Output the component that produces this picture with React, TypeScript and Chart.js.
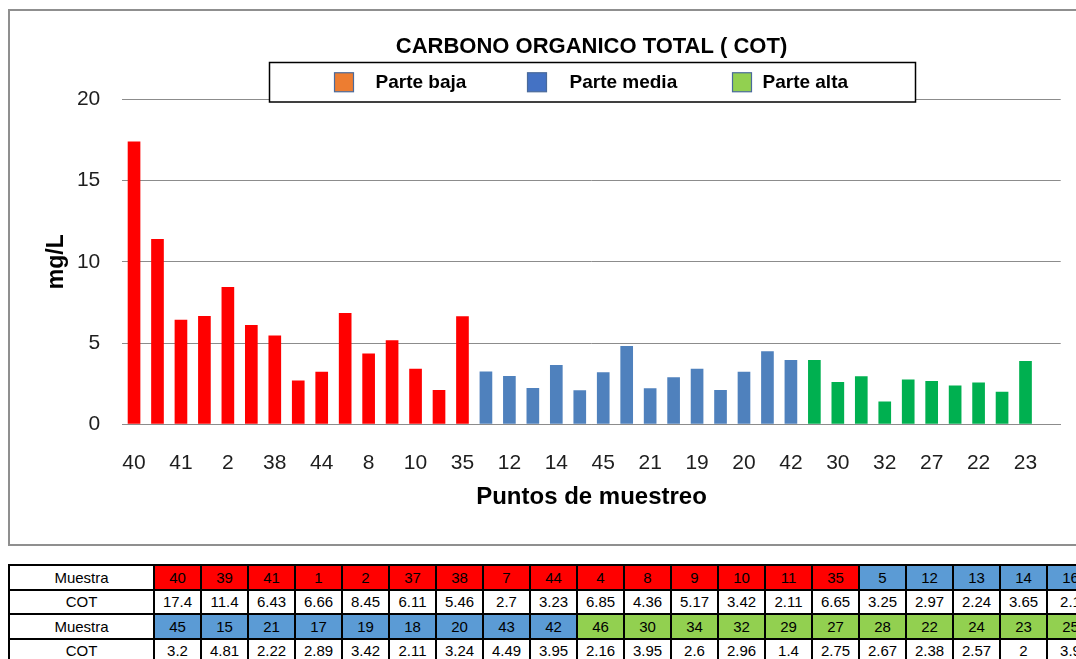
import React, { useEffect, useRef } from 'react';
import { Chart, registerables } from 'chart.js';

Chart.register(...registerables);

// ---- Data ----
const titleText = 'CARBONO ORGANICO TOTAL ( COT)';
const yTitle = 'mg/L';
const xTitle = 'Puntos de muestreo';
const seriesNames = ['Parte baja', 'Parte media', 'Parte alta'];

const bajaLabels = ['40', '39', '41', '1', '2', '37', '38', '7', '44', '4', '8', '9', '10', '11', '35'];
const bajaValues = [17.4, 11.4, 6.43, 6.66, 8.45, 6.11, 5.46, 2.7, 3.23, 6.85, 4.36, 5.17, 3.42, 2.11, 6.65];

const mediaLabels = ['5', '12', '13', '14', '16', '45', '15', '21', '17', '19', '18', '20', '43', '42'];
const mediaValues = [3.25, 2.97, 2.24, 3.65, 2.1, 3.2, 4.81, 2.22, 2.89, 3.42, 2.11, 3.24, 4.49, 3.95];

const altaLabels = ['46', '30', '34', '32', '29', '27', '28', '22', '24', '23', '25'];
// values as plotted in the chart (bars)
const altaChartValues = [3.95, 2.6, 2.96, 1.4, 2.75, 2.67, 2.38, 2.57, 2, 3.9, null];
// values as listed in the table
const altaTableValues = [2.16, 3.95, 2.6, 2.96, 1.4, 2.75, 2.67, 2.38, 2.57, 2, 3.9];

const yTicks = [0, 5, 10, 15, 20];

// ---- Styles ----
const barColors = ['#FF0000', '#4F81BD', '#00B050'];
const legendColors = ['#ED7D31', '#4472C4', '#92D050'];
const tableColors = ['#FF0000', '#5B9BD5', '#92D050'];
const gridColor = '#8c8c8c';
const textColor = '#1e1e1e';
const BASE_FONT = '"Liberation Sans", Arial, sans-serif';

const allLabels = [...bajaLabels, ...mediaLabels, ...altaLabels];
const nB = bajaLabels.length;
const nM = mediaLabels.length;
const nA = altaLabels.length;
const nulls = (n: number) => Array(n).fill(null);

const legendBoxPlugin = {
  id: 'legendBox',
  afterDraw(chart: any) {
    const { ctx, chartArea } = chart;
    const cx = (chartArea.left + chartArea.right) / 2;
    const w = 646;
    const h = 39.5;
    const left = Math.round(cx - w / 2) + 0.5;
    const top = Math.round(chartArea.top - 37.3) + 0.5;
    ctx.save();
    ctx.fillStyle = '#ffffff';
    ctx.fillRect(left, top, w, h);
    ctx.strokeStyle = '#000000';
    ctx.lineWidth = 1.5;
    ctx.strokeRect(left, top, w, h);
    const sqOff = [65, 258, 463];
    const txtOff = [106, 300, 493];
    const cy = top + h / 2;
    ctx.font = 'bold 19px ' + BASE_FONT;
    ctx.textBaseline = 'middle';
    ctx.textAlign = 'left';
    seriesNames.forEach((name, i) => {
      ctx.fillStyle = legendColors[i];
      ctx.fillRect(left + sqOff[i], cy - 9.5, 19, 19);
      ctx.strokeStyle = '#4a6a9a';
      ctx.lineWidth = 1.2;
      ctx.strokeRect(left + sqOff[i], cy - 9.5, 19, 19);
      ctx.fillStyle = '#000000';
      ctx.fillText(name, left + txtOff[i], cy + 1);
    });
    ctx.restore();
  },
};

function ChartBox() {
  const ref = useRef<HTMLCanvasElement | null>(null);
  useEffect(() => {
    if (!ref.current) return;
    Chart.defaults.font.family = BASE_FONT;
    const chart = new Chart(ref.current, {
      type: 'bar',
      data: {
        labels: allLabels,
        datasets: [
          { label: seriesNames[0], data: [...bajaValues, ...nulls(nM + nA)], backgroundColor: barColors[0] },
          { label: seriesNames[1], data: [...nulls(nB), ...mediaValues, ...nulls(nA)], backgroundColor: barColors[1] },
          { label: seriesNames[2], data: [...nulls(nB + nM), ...altaChartValues], backgroundColor: barColors[2] },
        ],
      },
      options: {
        responsive: false,
        animation: false,
        layout: { padding: { top: 0, left: 0, right: 109.3, bottom: 0 } },
        datasets: { bar: { grouped: false, barPercentage: 0.54, categoryPercentage: 1.0 } } as any,
        plugins: {
          legend: { display: false },
          tooltip: { enabled: false },
          title: {
            display: true,
            text: titleText,
            fullSize: false,
            color: '#000000',
            font: { size: 22, weight: 'bold' },
            padding: { top: 22.5, bottom: 39.3 },
          },
        },
        scales: {
          x: {
            grid: { display: false, drawTicks: false },
            border: { display: true, color: gridColor, width: 1 },
            ticks: {
              autoSkip: false,
              maxRotation: 0,
              minRotation: 0,
              padding: 26,
              color: textColor,
              font: { size: 21 },
              callback: (_v: any, i: number) => (i % 2 === 0 ? allLabels[i] : ''),
            },
            title: {
              display: true,
              text: xTitle,
              color: '#000000',
              font: { size: 24, weight: 'bold' },
              padding: { top: 0, bottom: 32 },
            },
            afterFit: (s: any) => {
              s.height = 119.7;
            },
          },
          y: {
            min: yTicks[0],
            max: yTicks[yTicks.length - 1],
            grid: { color: gridColor, lineWidth: 1, drawTicks: false },
            border: { display: false },
            ticks: {
              stepSize: yTicks[1] - yTicks[0],
              padding: 22,
              color: textColor,
              font: { size: 21 },
            },
            title: {
              display: true,
              text: yTitle,
              color: '#000000',
              font: { size: 23, weight: 'bold' },
              padding: { top: 32.5, bottom: 0 },
            },
            afterFit: (s: any) => {
              s.width = 112.3;
            },
          },
        },
      } as any,
      plugins: [legendBoxPlugin],
    });
    return () => chart.destroy();
  }, []);
  return <canvas ref={ref} width={1160} height={533} style={{ display: 'block' }} />;
}

function DataTable() {
  const samples = [...bajaLabels, ...mediaLabels, ...altaLabels];
  const values = [...bajaValues, ...mediaValues, ...altaTableValues];
  const groups = [...bajaLabels.map(() => 0), ...mediaLabels.map(() => 1), ...altaLabels.map(() => 2)];
  const perRow = 20;
  const rows: { kind: 'm' | 'c'; idx: number[] }[] = [];
  for (let s = 0; s < samples.length; s += perRow) {
    const idx = samples.slice(s, s + perRow).map((_, k) => s + k);
    rows.push({ kind: 'm', idx });
    rows.push({ kind: 'c', idx });
  }
  const cell: React.CSSProperties = {
    border: '2px solid #000',
    padding: 0,
    height: 22.5,
    textAlign: 'center',
    verticalAlign: 'middle',
    fontFamily: BASE_FONT,
    fontSize: 15,
    color: '#000',
    whiteSpace: 'nowrap',
    overflow: 'hidden',
  };
  return (
    <table
      style={{
        position: 'absolute',
        left: 8,
        top: 564,
        borderCollapse: 'collapse',
        tableLayout: 'fixed',
        width: 145 + perRow * 47,
      }}
    >
      <colgroup>
        <col style={{ width: 145 }} />
        {Array.from({ length: perRow }).map((_, i) => (
          <col key={i} style={{ width: 47 }} />
        ))}
      </colgroup>
      <tbody>
        {rows.map((r, ri) => (
          <tr key={ri}>
            <td style={{ ...cell, background: '#fff' }}>{r.kind === 'm' ? 'Muestra' : 'COT'}</td>
            {r.idx.map((i) => (
              <td
                key={i}
                style={{ ...cell, background: r.kind === 'm' ? tableColors[groups[i]] : '#fff' }}
              >
                {r.kind === 'm' ? samples[i] : String(values[i])}
              </td>
            ))}
          </tr>
        ))}
      </tbody>
    </table>
  );
}

export default function App() {
  return (
    <div style={{ position: 'fixed', inset: 0, overflow: 'hidden', background: '#fff' }}>
      <div
        style={{
          position: 'absolute',
          left: 8,
          top: 9,
          width: 1160,
          height: 533,
          border: '2px solid #8f8f8f',
        }}
      >
        <ChartBox />
      </div>
      <DataTable />
    </div>
  );
}
